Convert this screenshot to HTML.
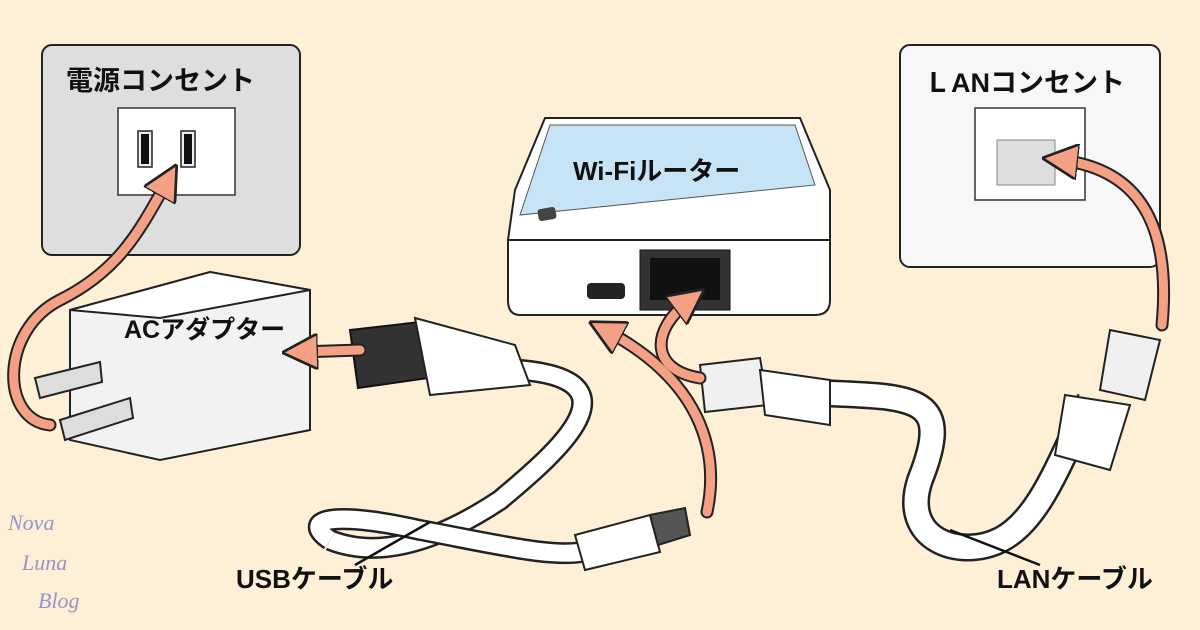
<!DOCTYPE html>
<html><head><meta charset="utf-8">
<style>
html,body{margin:0;padding:0;background:#fdf0d7;}
svg{display:block}
.t{font-family:"Liberation Sans","Noto Sans CJK JP",sans-serif;font-weight:bold;fill:#111}
</style></head><body>
<svg width="1200" height="630" viewBox="0 0 1200 630" xmlns="http://www.w3.org/2000/svg">
<rect width="1200" height="630" fill="#fdf0d7"/>
<defs>
<marker id="ah" markerWidth="4" markerHeight="4" refX="2" refY="2" orient="auto" markerUnits="strokeWidth">
<path d="M0,0 L4,2 L0,4 Z" fill="#f4a084" stroke="#222" stroke-width="0.3"/></marker>
</defs>

<!-- power outlet -->
<rect x="42" y="45" width="258" height="210" rx="10" fill="#dedede" stroke="#222" stroke-width="2"/>
<text x="66" y="90" class="t" font-size="27">電源コンセント</text>
<rect x="118" y="108" width="117" height="87" fill="#fff" stroke="#333" stroke-width="1.5"/>
<rect x="138" y="131" width="14" height="36" fill="#eee" stroke="#222" stroke-width="1.5"/>
<rect x="141" y="134" width="8" height="30" fill="#111"/>
<rect x="181" y="131" width="14" height="36" fill="#eee" stroke="#222" stroke-width="1.5"/>
<rect x="184" y="134" width="8" height="30" fill="#111"/>

<!-- LAN outlet -->
<rect x="900" y="45" width="260" height="222" rx="10" fill="#f7f7f7" stroke="#222" stroke-width="2"/>
<text x="924" y="92" class="t" font-size="27">ＬANコンセント</text>
<rect x="975" y="108" width="110" height="92" fill="#fff" stroke="#333" stroke-width="1.5"/>
<rect x="997" y="140" width="58" height="45" fill="#ddd" stroke="#888"/>

<!-- router -->
<path d="M545,118 L800,118 L830,190 L830,240 L508,240 L515,190 Z" fill="#fff" stroke="#222" stroke-width="2"/>
<path d="M550,125 L795,125 L815,185 L520,215 Z" fill="#c7e4f6" stroke="#555" stroke-width="1"/>
<text x="573" y="180" class="t" font-size="26">Wi-Fiルーター</text>
<rect x="538" y="208" width="18" height="12" rx="3" fill="#444" transform="rotate(-10 547 214)"/>
<path d="M508,240 L830,240 L830,300 Q830,315 815,315 L520,315 Q508,315 508,300 Z" fill="#fff" stroke="#222" stroke-width="2"/>
<rect x="587" y="283" width="38" height="16" rx="4" fill="#222"/>
<rect x="640" y="250" width="90" height="60" fill="#333" stroke="#111"/>
<rect x="650" y="258" width="70" height="42" fill="#111"/>

<!-- AC adapter -->
<path d="M70,310 L210,272 L310,290 L310,430 L160,460 L70,440 Z" fill="#f2f2f2" stroke="#222" stroke-width="2"/>
<path d="M70,310 L210,272 L310,290 L160,318 Z" fill="#fff" stroke="#222" stroke-width="2"/>
<text x="124" y="338" class="t" font-size="25">ACアダプター</text>
<path d="M35,378 L100,362 L102,382 L40,398 Z" fill="#ddd" stroke="#222" stroke-width="2"/>
<path d="M60,420 L130,398 L133,418 L65,440 Z" fill="#ddd" stroke="#222" stroke-width="2"/>

<!-- USB cable -->
<path d="M520,370 C640,380 560,450 500,500 C440,540 380,560 330,540" fill="none" stroke="#222" stroke-width="22"/>
<path d="M520,370 C640,380 560,450 500,500 C440,540 380,560 330,540" fill="none" stroke="#fff" stroke-width="17"/>
<path d="M330,540 C300,520 330,510 420,530 C500,545 560,560 590,550" fill="none" stroke="#222" stroke-width="22"/>
<path d="M330,540 C300,520 330,510 420,530 C500,545 560,560 590,550" fill="none" stroke="#fff" stroke-width="17"/>
<path d="M350,330 L420,322 L428,378 L358,388 Z" fill="#333" stroke="#111" stroke-width="2"/>
<path d="M415,318 L515,345 L530,385 L430,395 Z" fill="#fff" stroke="#222" stroke-width="2"/>
<path d="M575,535 L650,515 L660,552 L585,570 Z" fill="#fff" stroke="#222" stroke-width="2"/>
<path d="M650,515 L685,508 L690,535 L658,545 Z" fill="#555" stroke="#222" stroke-width="2"/>

<!-- LAN cable -->
<path d="M760,390 C900,400 960,380 920,480 C900,540 960,560 1000,540 C1040,520 1060,460 1090,400" fill="none" stroke="#222" stroke-width="28"/>
<path d="M760,390 C900,400 960,380 920,480 C900,540 960,560 1000,540 C1040,520 1060,460 1090,400" fill="none" stroke="#fff" stroke-width="23"/>
<path d="M700,365 L760,358 L768,405 L705,412 Z" fill="#f0f0f0" stroke="#222" stroke-width="2"/>
<path d="M760,370 L830,380 L830,425 L765,415 Z" fill="#fff" stroke="#222" stroke-width="2"/>
<path d="M1110,330 L1160,340 L1145,400 L1100,390 Z" fill="#f0f0f0" stroke="#222" stroke-width="2"/>
<path d="M1065,395 L1130,405 L1110,470 L1055,455 Z" fill="#fff" stroke="#222" stroke-width="2"/>

<!-- arrows -->
<g fill="none" stroke-linecap="round">
<g stroke="#222" stroke-width="13">
<path d="M50,425 C0,420 0,330 60,300 C120,270 140,230 168,180"/>
<path d="M707,512 C720,450 700,380 605,330"/>
<path d="M700,378 C650,370 650,330 690,300"/>
<path d="M1162,325 C1170,240 1150,170 1060,160"/>
<path d="M360,350 L300,352"/>
</g>
<g stroke="#f4a084" stroke-width="9">
<path d="M50,425 C0,420 0,330 60,300 C120,270 140,230 168,180" marker-end="url(#ah)"/>
<path d="M707,512 C720,450 700,380 605,330" marker-end="url(#ah)"/>
<path d="M700,378 C650,370 650,330 690,300" marker-end="url(#ah)"/>
<path d="M1162,325 C1170,240 1150,170 1060,160" marker-end="url(#ah)"/>
<path d="M360,350 L300,352" marker-end="url(#ah)"/>
</g>
</g>

<!-- leader lines -->
<line x1="355" y1="565" x2="430" y2="522" stroke="#111" stroke-width="2.5"/>
<line x1="1040" y1="565" x2="950" y2="530" stroke="#111" stroke-width="2.5"/>
<text x="236" y="588" class="t" font-size="26">USBケーブル</text>
<text x="997" y="588" class="t" font-size="26">LANケーブル</text>

<g font-family="Liberation Serif,serif" font-style="italic" font-size="22" fill="#9a94c8">
<text x="8" y="530">Nova</text><text x="22" y="570">Luna</text><text x="38" y="608">Blog</text>
</g>
</svg>
</body></html>
